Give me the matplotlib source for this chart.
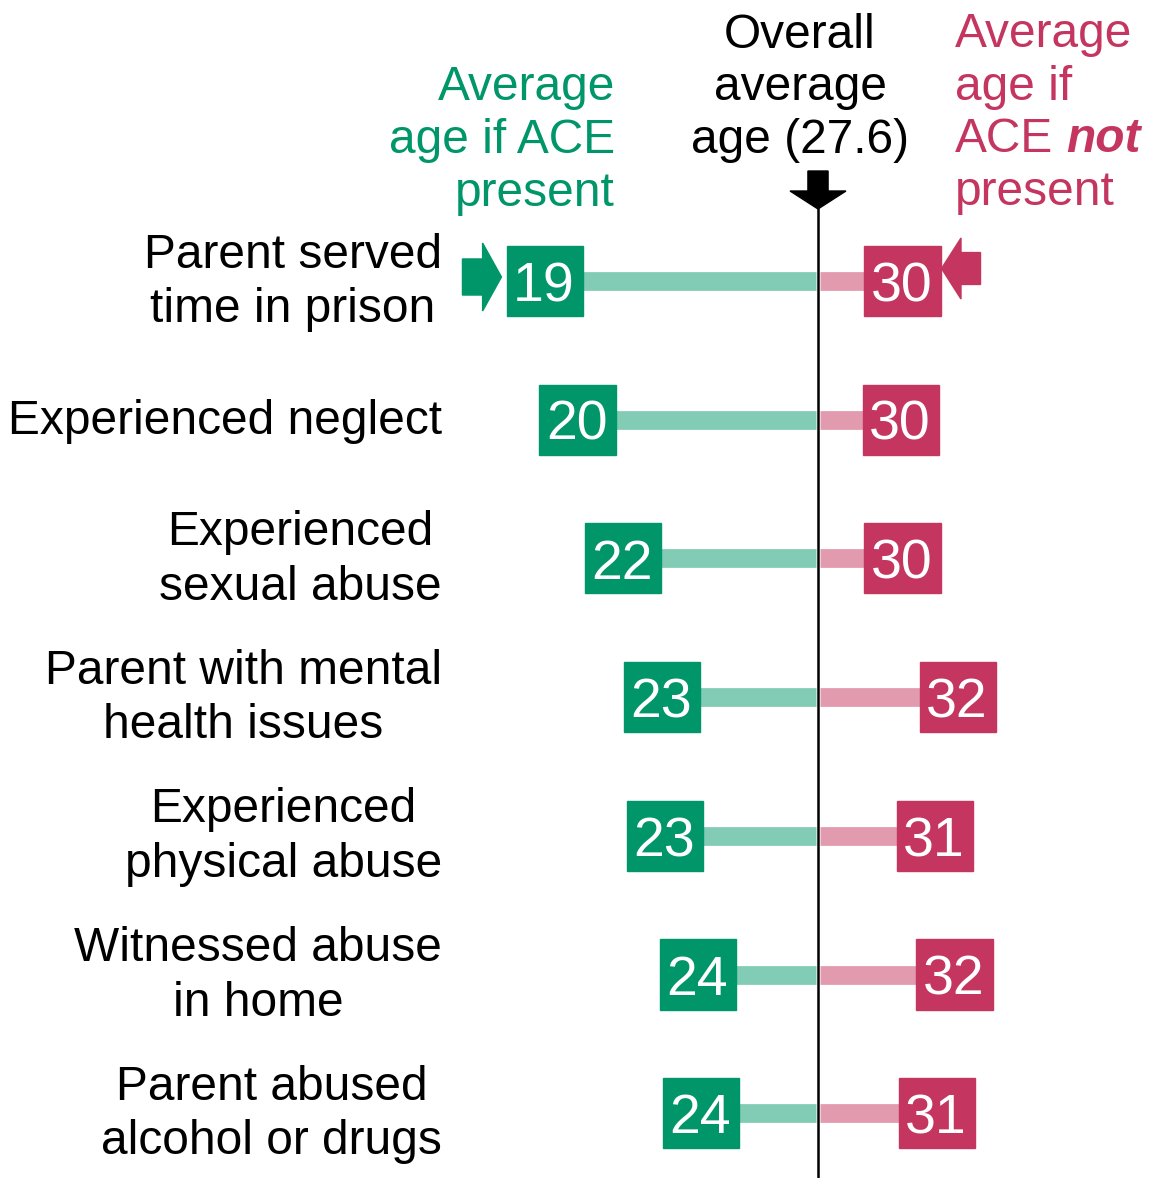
import numpy as np
import matplotlib.pyplot as plt
import matplotlib.transforms as mtransforms
from matplotlib.patches import Rectangle, Polygon

plt.rcParams['font.family'] = ['Liberation Sans', 'DejaVu Sans']

categories = ['Parent served\ntime in prison', 'Experienced neglect',
              'Experienced\nsexual abuse', 'Parent with mental\nhealth issues',
              'Experienced\nphysical abuse', 'Witnessed abuse\nin home',
              'Parent abused\nalcohol or drugs']
age_present = [19.2, 20.2, 21.6, 22.8, 22.9, 23.9, 24.0]
age_absent = [30.2, 30.15, 30.2, 31.9, 31.2, 31.8, 31.25]
overall = 27.6

green = '#00966A'
green_light = '#82CBB5'
pink = '#C4365F'
pink_light = '#E29AAF'

W, H = 1159, 1178
fig = plt.figure(figsize=(W / 100, H / 100), dpi=100)
ax = fig.add_axes([0, 0, 1, 1])
ax.set_xlim(overall - 818 / 32.5, overall + (W - 818) / 32.5)
ax.set_ylim((H - 281) / 138.7, -281 / 138.7)
ax.axis('off')

def py(y):
    # pixel row -> data row
    return (y - 281) / 138.7

bw, bh = 2.34, 0.505
for i, (a, b) in enumerate(zip(age_present, age_absent)):
    ax.hlines(i, a, overall - 0.05, color=green_light, lw=13.5, capstyle='butt', zorder=1)
    ax.hlines(i, overall + 0.05, b, color=pink_light, lw=13.5, capstyle='butt', zorder=1)
    ax.add_patch(Rectangle((a - bw / 2, i - bh / 2), bw, bh, color=green, zorder=3))
    ax.add_patch(Rectangle((b - bw / 2, i - bh / 2), bw, bh, color=pink, zorder=3))
    ax.text(a - 0.03, i + 0.045, '{:.0f}'.format(a), color='white', fontsize=40,
            ha='center', va='center', zorder=4)
    ax.text(b - 0.03, i + 0.045, '{:.0f}'.format(b), color='white', fontsize=40,
            ha='center', va='center', zorder=4)

# overall line and arrow
ax.plot([overall, overall], [py(209), py(H)], color='black', lw=1.8, zorder=2)
ax.add_patch(Polygon([(overall - 0.31, py(171)), (overall + 0.31, py(171)),
                      (overall + 0.31, py(191)), (overall + 0.86, py(191)),
                      (overall, py(209)), (overall - 0.86, py(191)),
                      (overall - 0.31, py(191))], color='black', zorder=3))

# arrows pointing at first row boxes
tip = age_present[0] - bw / 2 - 0.17
cy = py(277)
ax.add_patch(Polygon([(tip - 1.2, cy - 0.13), (tip - 0.58, cy - 0.13), (tip - 0.58, cy - 0.245),
                      (tip, cy), (tip - 0.58, cy + 0.245), (tip - 0.58, cy + 0.13),
                      (tip - 1.2, cy + 0.13)], color=green, zorder=3))
tip = age_absent[0] + bw / 2 + 0.03
cy = py(268.5)
ax.add_patch(Polygon([(tip + 1.2, cy - 0.115), (tip + 0.6, cy - 0.115), (tip + 0.6, cy - 0.22),
                      (tip, cy), (tip + 0.6, cy + 0.22), (tip + 0.6, cy + 0.115),
                      (tip + 1.2, cy + 0.115)], color=pink, zorder=3))

# category labels
trans = mtransforms.blended_transform_factory(fig.transFigure, ax.transData)
for i, c in enumerate(categories):
    ax.text(442 / W, i + 0.01, c, transform=trans, fontsize=34.5, ha='right', va='center',
            multialignment='center', linespacing=1.27)

# headers
def header(lines, x, y0, ha, color):
    for k, s in enumerate(lines):
        fig.text(x / W, 1 - (y0 + k * 52.5) / H, s, fontsize=34.5, ha=ha,
                 va='baseline', color=color)

header(['Average', 'age if ACE', 'present'], 615, 100.5, 'right', green)
header(['Overall', 'average', 'age (27.6)'], 800, 48, 'center', 'black')
header(['Average', 'age if', 'ACE', 'present'], 955, 47, 'left', pink)
t_ace = fig.texts[-2]
ax.annotate('not', xy=(1, 0), xycoords=t_ace, xytext=(9.5, 0), textcoords='offset points',
            fontsize=34.5, ha='left', va='bottom', color=pink,
            fontweight='bold', fontstyle='italic')

fig.savefig('out.png', dpi=100)
